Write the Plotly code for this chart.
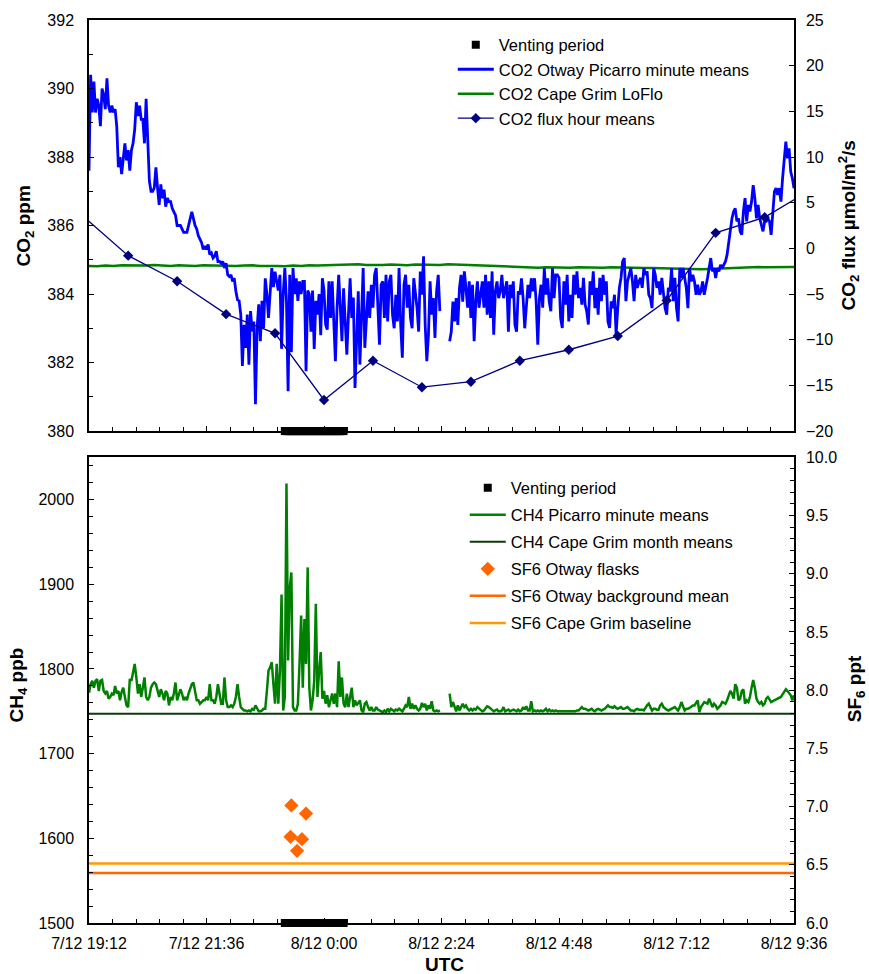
import pandas as pd
import plotly.graph_objects as go

# ---------------- data ----------------
START = "2012-12-07 19:12"
END = "2012-12-08 09:36"

tick_times = ["2012-12-07 19:12", "2012-12-07 21:36", "2012-12-08 00:00", "2012-12-08 02:24",
              "2012-12-08 04:48", "2012-12-08 07:12", "2012-12-08 09:36"]
tick_labels = ["7/12 19:12", "7/12 21:36", "8/12 0:00", "8/12 2:24", "8/12 4:48", "8/12 7:12", "8/12 9:36"]

venting_start = "2012-12-07 23:12"
venting_end = "2012-12-08 00:24"

# CO2 Otway Picarro, 2-minute steps from 7/12 19:12
co2_otway_ppm = [
    387.6, 390.4, 389.3, 390.2, 389.3, 389.7, 389.5, 388.9, 390.0, 389.8,
    389.4, 390.3, 389.5, 389.3, 389.5, 389.3, 389.4, 388.9, 387.7, 388.0,
    387.5, 388.0, 388.4, 387.9, 388.2, 387.6, 388.2, 388.4, 388.8, 389.6,
    389.2, 389.5, 389.1, 389.1, 388.4, 389.7, 388.4, 387.3, 387.0, 387.0,
    387.1, 387.7, 387.1, 386.6, 387.2, 386.8, 387.05, 386.55, 386.8, 386.7,
    386.7, 386.5, 386.4, 386.3, 386.0, 386.0, 386.0, 385.9, 385.8, 385.8,
    385.8, 386.0, 386.2, 386.4, 386.2, 386.0, 385.9, 385.7, 385.6, 385.5,
    385.3, 385.4, 385.3, 385.45, 385.15, 385.2, 385.05, 385.1, 385.25, 384.95,
    384.95, 384.9, 384.95, 384.76, 384.9, 384.56, 384.51, 384.56, 384.37, 384.46,
    384.08, 383.83, 383.8, 383.4, 381.9, 383.1, 382.43, 383.4, 381.94, 383.5,
    382.91, 383.2, 380.78, 383.0, 383.7, 382.62, 383.8, 383.0, 384.46, 384.0,
    383.3, 384.0, 384.76, 384.2, 384.65, 384.37, 384.1, 384.56, 382.4, 384.0,
    384.76, 383.8, 381.16, 384.56, 382.3, 384.76, 384.0, 384.46, 383.8, 384.37,
    384.0, 384.37, 384.37, 381.75, 384.1, 384.0, 382.9, 384.1, 382.4, 383.8,
    383.4, 384.0, 382.8, 384.46, 384.1, 383.1, 382.96, 384.37, 383.3, 384.37,
    383.0, 382.04, 383.6, 384.56, 383.6, 382.62, 384.17, 383.0, 382.23, 383.4,
    384.46, 383.3, 383.9, 381.26, 383.0, 384.08, 381.94, 383.6, 384.76, 382.43,
    383.3, 384.08, 383.3, 384.27, 383.6, 384.56, 384.76, 383.4, 382.52, 384.27,
    384.37, 383.3, 384.56, 383.2, 384.37, 384.56, 383.4, 383.0, 383.98, 383.2,
    384.76, 383.1, 382.14, 384.27, 384.56, 383.6, 384.27, 383.3, 383.0, 384.46,
    384.08, 383.6, 382.9, 384.66, 383.98, 385.1, 383.1, 382.04, 382.8, 384.37,
    383.4, 383.88, 382.72, 384.08, 384.56, 383.5, None, None, None, None,
    None, 382.62, 382.9, 383.78, 383.2, 383.88, 383.1, 384.17, 384.56, 383.78,
    384.66, 384.17, 383.6, 384.37, 383.3, 384.27, 382.62, 383.78, 384.37, 383.6,
    383.98, 384.37, 383.6, 384.56, 383.4, 384.37, 383.3, 384.66, 382.81, 384.08,
    384.37, 383.88, 384.08, 384.56, 383.88, 384.17, 384.37, 382.9, 384.27, 383.88,
    384.37, 383.1, 382.9, 384.08, 383.98, 384.46, 383.88, 383.0, 383.6, 384.27,
    383.88, 384.46, 384.08, 384.46, 383.78, 382.52, 383.88, 384.27, 383.6, 384.76,
    383.98, 384.46, 383.78, 383.5, 384.76, 383.88, 384.56, 384.56, 384.47, 383.3,
    383.01, 384.37, 383.69, 384.56, 383.2, 383.98, 383.3, 384.56, 383.98, 384.66,
    383.88, 384.18, 383.69, 384.47, 383.69, 383.49, 383.11, 384.37, 383.98, 384.66,
    383.59, 384.18, 383.4, 384.47, 383.79, 384.56, 383.98, 384.37, 383.2, 383.01,
    383.79, 383.59, 383.98, 382.82, 383.59, 384.18, 384.47, 384.95, 385.05, 383.79,
    384.37, 384.56, 384.76, 384.37, 383.79, 384.56, 384.18, 384.37, 384.47, 384.18,
    384.76, 384.56, 384.66, 383.98, 383.88, 383.59, 384.76, 384.56, 384.18, 384.37,
    383.98, 384.47, 383.98, 383.59, 383.4, 384.18, 384.08, 384.76, 383.79, 384.47,
    383.59, 383.2, 384.76, 384.47, 384.76, 384.47, 384.18, 383.59, 384.76, 384.37,
    384.56, 384.37, 383.98, 384.27, 383.98, 384.08, 384.37, 383.98, 384.18, 384.47,
    384.76, 385.05, 384.66, 384.76, 384.47, 384.76, 384.66, 384.85, 384.76, 384.85,
    384.95, 385.15, 385.53, 385.92, 386.21, 386.41, 386.5, 386.12, 386.21, 385.83,
    385.73, 386.41, 386.8, 386.12, 386.6, 386.41, 386.7, 387.18, 386.8, 386.21,
    386.6, 386.21, 386.02, 385.83, 386.12, 386.12, 386.21, 386.12, 385.73, 386.5,
    386.99, 387.09, 386.89, 387.09, 386.7, 387.38, 388.06, 388.45, 387.96, 388.25,
    387.57, 387.38, 387.09,
]

# CO2 Cape Grim LoFlo, 10-minute steps from 7/12 19:12
co2_capegrim_ppm = [
    384.82, 384.81, 384.83, 384.82, 384.84, 384.83, 384.82, 384.83, 384.85, 384.83,
    384.82, 384.84, 384.83, 384.82, 384.84, 384.83, 384.82, 384.83, 384.82, 384.83,
    384.84, 384.82, 384.83, 384.82, 384.81, 384.83, 384.82, 384.84, 384.83,
    384.84, 384.85, 384.86, 384.85, 384.87, 384.85, 384.84, 384.85, 384.86, 384.85,
    384.84, 384.86, 384.85, 384.84, 384.85, 384.87, 384.86, 384.85, 384.84, 384.85,
    384.84, 384.83, 384.82, 384.80, 384.78, 384.77, 384.77, 384.78,
    384.77, 384.78, 384.77, 384.78, 384.77, 384.76, 384.77, 384.78, 384.77, 384.76,
    384.77, 384.76, 384.76, 384.75, 384.74, 384.74, 384.73, 384.72, 384.72, 384.73,
    384.74, 384.76, 384.77, 384.78, 384.78, 384.79, 384.78, 384.79, 384.78, 384.79,
    384.78,
]

# CO2 flux hour means
flux_hours = ["2012-12-07 19:00", "2012-12-07 20:00", "2012-12-07 21:00", "2012-12-07 22:00",
              "2012-12-07 23:00", "2012-12-08 00:00", "2012-12-08 01:00", "2012-12-08 02:00",
              "2012-12-08 03:00", "2012-12-08 04:00", "2012-12-08 05:00", "2012-12-08 06:00",
              "2012-12-08 07:00", "2012-12-08 08:00", "2012-12-08 09:00", "2012-12-08 10:00"]
flux_umol = [3.9, -0.8, -3.6, -7.2, -9.3, -16.6, -12.3, -15.2,
             -14.6, -12.3, -11.1, -9.6, -5.7, 1.7, 3.4, 6.6]

# CH4 Picarro, 2-minute steps from 7/12 19:12
ch4_picarro_ppb = [
    1772, 1782, 1786, 1778, 1786, 1788, 1774, 1786, 1787, 1774,
    1771, 1774, 1765, 1767, 1771, 1769, 1780, 1771, 1774, 1763,
    1773, 1778, 1767, 1757, 1755, 1788, 1786, 1798, 1806, 1790,
    1771, 1782, 1767, 1778, 1790, 1767, 1763, 1767, 1778, 1782,
    1784, 1782, 1774, 1767, 1776, 1771, 1763, 1774, 1771, 1757,
    1767, 1763, 1771, 1784, 1763, 1771, 1776, 1771, 1763, 1767,
    1763, 1771, 1778, 1782, 1784, 1771, 1763, 1763, 1759, 1761,
    1763, 1763, 1767, 1763, 1782, 1763, 1763, 1759, 1767, 1782,
    1771, 1759, 1759, 1790, 1763, 1755, 1755, 1757, 1755, 1759,
    1767, 1782, 1767, 1755, 1753, 1751, 1751, 1750, 1751, 1750,
    1753, 1752, 1757, 1753, 1750, 1750, 1751, 1753, 1753, 1774,
    1798, 1802, 1808, 1782, 1759, 1806, 1759, 1798, 1888, 1751,
    1767, 2019, 1810, 1896, 1914, 1755, 1751, 1751, 1759, 1806,
    1863, 1778, 1859, 1806, 1920, 1778, 1751, 1763, 1786, 1877,
    1767, 1798, 1820, 1765, 1774, 1759, 1769, 1755, 1765, 1771,
    1759, 1771, 1755, 1809, 1767, 1790, 1759, 1755, 1771, 1755,
    1767, 1778, 1755, 1763, 1757, 1761, 1763, 1751, 1749, 1759,
    1761, 1755, 1751, 1755, 1751, 1751, 1755, 1752, 1751, 1750,
    1749, 1751, 1749, 1753, 1750, 1753, 1751, 1750, 1752, 1751,
    1753, 1751, 1750, 1753, 1757, 1755, 1767, 1753, 1759, 1753,
    1757, 1753, 1751, 1753, 1760, 1755, 1759, 1751, 1757, 1753,
    1762, 1751, 1750, 1751, 1750, 1751, None, None, None, None,
    None, 1771, 1755, 1761, 1755, 1750, 1757, 1751, 1755, 1759,
    1755, 1757, 1753, 1751, 1753, 1751, 1753, 1752, 1755, 1753,
    1751, 1750, 1751, 1753, 1756, 1755, 1753, 1751, 1750, 1751,
    1752, 1750, 1750, 1751, 1755, 1750, 1751, 1752, 1750, 1751,
    1752, 1751, 1750, 1752, 1750, 1751, 1755, 1752, 1756, 1751,
    1751, 1762, 1750, 1751, 1750, 1751, 1750, 1751, 1750, 1751,
    1753, 1750, 1752, 1750, 1751, 1750, 1751, 1750, 1750, 1750,
    1750, 1750, 1750, 1750, 1750, 1750, 1750, 1750, 1750, 1751,
    1751, 1753, 1755, 1753, 1753, 1752, 1751, 1752, 1753, 1751,
    1750, 1752, 1753, 1752, 1751, 1752, 1753, 1755, 1757, 1755,
    1755, 1754, 1756, 1754, 1753, 1754, 1755, 1753, 1753, 1754,
    1755, 1753, 1751, 1751, 1750, 1752, 1753, 1752, 1752, 1752,
    1751, 1755, 1757, 1759, 1755, 1751, 1753, 1753, 1752, 1752,
    1757, 1759, 1755, 1753, 1752, 1751, 1752, 1753, 1754, 1755,
    1753, 1751, 1755, 1761, 1756, 1751, 1753, 1753, 1754, 1755,
    1757, 1757, 1760, 1763, 1749, 1755, 1758, 1761, 1760, 1759,
    1765, 1759, 1755, 1759, 1757, 1753, 1755, 1757, 1761, 1760,
    1759, 1763, 1769, 1774, 1771, 1765, 1782, 1778, 1763, 1765,
    1774, 1776, 1759, 1763, 1761, 1767, 1778, 1787, 1778, 1765,
    1761, 1759, 1761, 1757, 1759, 1765, 1767, 1763, 1761, 1762,
    1763, 1764, 1765, 1766, 1767, 1770, 1773, 1776, 1774, 1772,
    1769, 1763, 1769,
]
ch4_capegrim_month_mean = 1747

sf6_flask_times = ["2012-12-07 23:20", "2012-12-07 23:38", "2012-12-07 23:19",
                   "2012-12-07 23:33", "2012-12-07 23:27"]
sf6_flask_ppt = [7.01, 6.94, 6.74, 6.72, 6.62]
sf6_otway_background = 6.43
sf6_capegrim_baseline = 6.51

# ---------------- build ----------------
FONT = "Liberation Sans, Arial, sans-serif"
t0 = pd.Timestamp(START)
co2_times = [t0 + pd.Timedelta(minutes=2 * i) for i in range(len(co2_otway_ppm))]
ch4_times = [t0 + pd.Timedelta(minutes=2 * i) for i in range(len(ch4_picarro_ppb))]
cg_times = [t0 + pd.Timedelta(minutes=10 * i) for i in range(len(co2_capegrim_ppm))]
vent_times = pd.date_range(venting_start, venting_end, freq="1min")
line_x = [START, END]

fig = go.Figure()

# top panel
fig.add_trace(go.Scatter(x=vent_times, y=[380] * len(vent_times), mode="markers", name="Venting period",
                         marker=dict(symbol="square", size=8, color="black"), cliponaxis=False,
                         xaxis="x", yaxis="y", legend="legend", legendrank=1))
fig.add_trace(go.Scatter(x=cg_times, y=co2_capegrim_ppm, mode="lines", name="CO2 Cape Grim LoFlo",
                         line=dict(color="#008000", width=2.5), xaxis="x", yaxis="y",
                         legend="legend", legendrank=3))
fig.add_trace(go.Scatter(x=co2_times, y=co2_otway_ppm, mode="lines", name="CO2 Otway Picarro minute means",
                         line=dict(color="#0000FF", width=2.8), connectgaps=False, xaxis="x", yaxis="y",
                         legend="legend", legendrank=2))
fig.add_trace(go.Scatter(x=flux_hours, y=flux_umol, mode="lines+markers", name="CO2 flux hour means",
                         line=dict(color="#000080", width=1.3),
                         marker=dict(symbol="diamond", size=8, color="#000080"),
                         xaxis="x", yaxis="y2", legend="legend", legendrank=4))

# bottom panel
bottom = [
    go.Scatter(x=vent_times, y=[1500] * len(vent_times), mode="markers", name="Venting period",
               marker=dict(symbol="square", size=8, color="black"), cliponaxis=False,
               xaxis="x2", yaxis="y3"),
    go.Scatter(x=ch4_times, y=ch4_picarro_ppb, mode="lines", name="CH4 Picarro minute means",
               line=dict(color="#008000", width=2.5), xaxis="x2", yaxis="y3"),
    go.Scatter(x=line_x, y=[ch4_capegrim_month_mean] * 2, mode="lines",
               name="CH4 Cape Grim month means", line=dict(color="#0B3B0B", width=2),
               xaxis="x2", yaxis="y3"),
    go.Scatter(x=sf6_flask_times, y=sf6_flask_ppt, mode="markers", name="SF6 Otway flasks",
               marker=dict(symbol="diamond", size=11, color="#FF6600"), xaxis="x2", yaxis="y4"),
    go.Scatter(x=line_x, y=[sf6_otway_background] * 2, mode="lines",
               name="SF6 Otway background mean", line=dict(color="#FF6600", width=2.5),
               xaxis="x2", yaxis="y4"),
    go.Scatter(x=line_x, y=[sf6_capegrim_baseline] * 2, mode="lines",
               name="SF6 Cape Grim baseline", line=dict(color="#FF9900", width=2.5),
               xaxis="x2", yaxis="y4"),
]
for i, tr in enumerate(bottom):
    tr.update(legend="legend2", legendgroup="g%d" % i, legendrank=i + 1)
    fig.add_trace(tr)

tickfont = dict(family=FONT, size=16, color="black")
axis_common = dict(showline=True, linecolor="black", linewidth=1.5, showgrid=False, zeroline=False,
                   ticks="inside", ticklen=5, tickwidth=1.3, tickcolor="black", tickfont=tickfont)
minor_x = dict(ticks="inside", ticklen=4, tickwidth=1.2, tickcolor="black",
               tickmode="linear", tick0=START, dtick=1728000)

xcommon = dict(axis_common, type="date", range=[START, END], tickmode="array",
               tickvals=tick_times, ticktext=tick_labels, minor=minor_x, mirror=True)

top_dom = [0.5448, 1.0]
bot_dom = [0.0, 0.5157]

fig.update_layout(
    width=869, height=974, autosize=False,
    margin=dict(l=89, r=75, t=18, b=51),
    plot_bgcolor="white", paper_bgcolor="white",
    font=dict(family=FONT, size=16, color="black"),
    xaxis=dict(xcommon, domain=[0, 1], anchor="y", showticklabels=False),
    xaxis2=dict(xcommon, domain=[0, 1], anchor="y3", showticklabels=True, ticklabelstandoff=5),
    yaxis=dict(axis_common, domain=top_dom, anchor="x", range=[380, 392], tickmode="linear",
               tick0=380, dtick=2, minor=dict(ticks="inside", ticklen=4, tickcolor="black", dtick=1),
               ticklabelstandoff=10),
    yaxis2=dict(axis_common, overlaying="y", side="right", anchor="x", range=[-20, 25],
                tickmode="linear", tick0=-20, dtick=5, ticklabelstandoff=7),
    yaxis3=dict(axis_common, domain=bot_dom, anchor="x2", range=[1500, 2050], tickmode="linear",
                tick0=1500, dtick=100, minor=dict(ticks="inside", ticklen=4, tickcolor="black", dtick=20),
                ticklabelstandoff=10),
    yaxis4=dict(axis_common, overlaying="y3", side="right", anchor="x2", range=[6, 10],
                tickmode="linear", tick0=6, dtick=0.5, tickformat=".1f",
                minor=dict(ticks="inside", ticklen=4, tickcolor="black", dtick=0.1),
                ticklabelstandoff=7),
    legend=dict(x=0.516, y=0.9916, xanchor="left", yanchor="top", bgcolor="rgba(0,0,0,0)",
                font=dict(family=FONT, size=16.5, color="black"), traceorder="normal",
                itemwidth=36),
    legend2=dict(x=0.533, y=0.5012, xanchor="left", yanchor="top", bgcolor="rgba(0,0,0,0)",
                 font=dict(family=FONT, size=16.5, color="black"), traceorder="grouped",
                 tracegroupgap=2.6, itemwidth=36),
    showlegend=True,
)

title_font = dict(family=FONT, size=19, color="black")
annots = [
    dict(text="<b>CO<sub>2</sub> ppm</b>", x=-0.0908, y=0.7724, textangle=-90),
    dict(text="<b>CO<sub>2</sub> flux µmol/m<sup>2</sup>/s</b>", x=1.078, y=0.7724, textangle=-90),
    dict(text="<b>CH<sub>4</sub> ppb</b>", x=-0.1007, y=0.263, textangle=-90),
    dict(text="<b>SF<sub>6</sub> ppt</b>", x=1.088, y=0.259, textangle=-90),
    dict(text="<b>UTC</b>", x=0.504, y=-0.0459, textangle=0),
]
for a in annots:
    fig.add_annotation(xref="paper", yref="paper", showarrow=False, xanchor="center", yanchor="middle",
                       font=title_font, **a)

fig.write_html("out.html", config={"displayModeBar": False},
               post_script="document.body.style.margin='0';")
